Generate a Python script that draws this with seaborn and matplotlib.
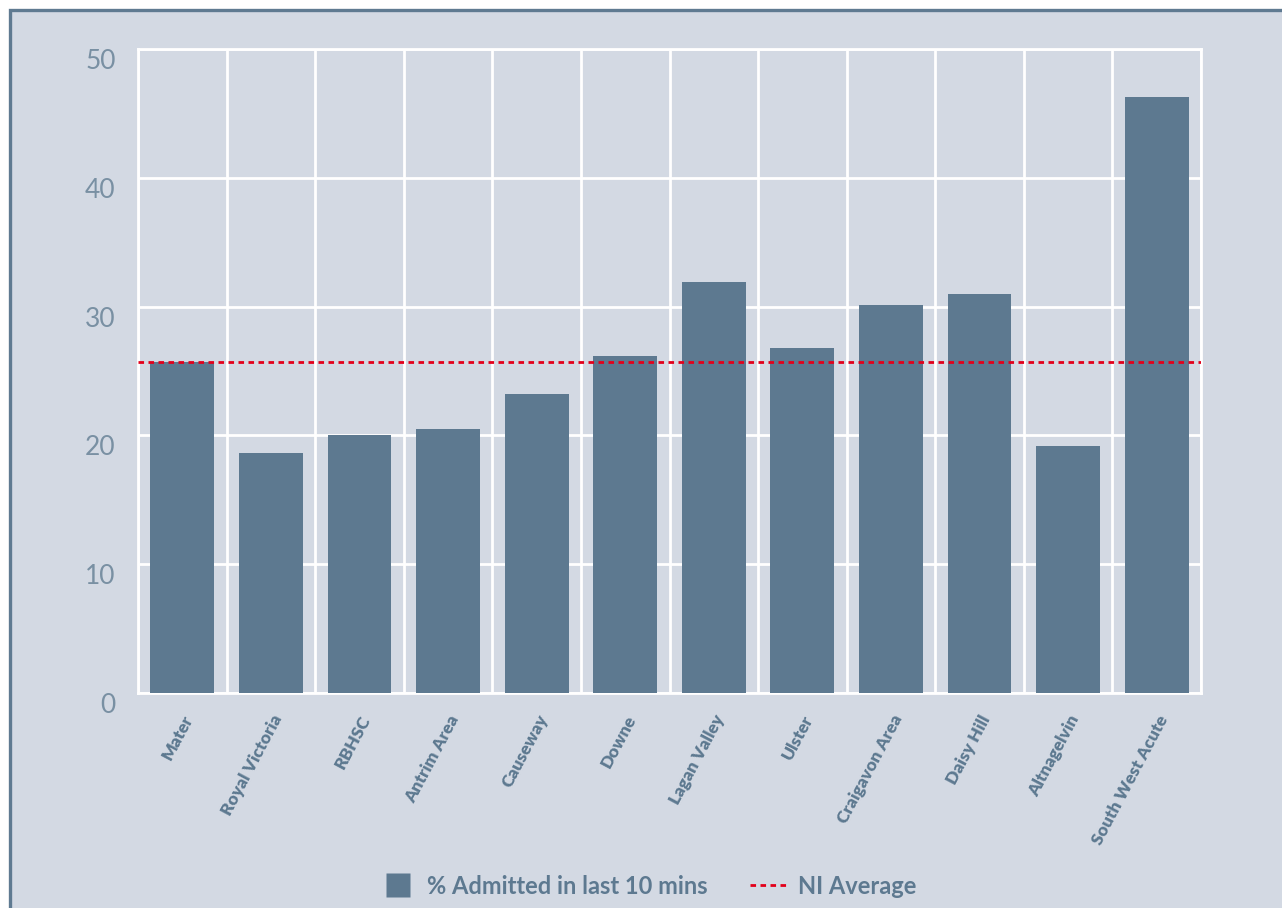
import pandas as pd
import matplotlib
matplotlib.use("Agg")
import matplotlib.pyplot as plt
from matplotlib.patches import Rectangle
from matplotlib.lines import Line2D
import seaborn as sns

# Data
sjukhus = ["Mater", "Royal Victoria", "RBHSC", "Antrim Area", "Causeway", "Downe",
           "Lagan Valley", "Ulster", "Craigavon Area", "Daisy Hill", "Altnagelvin",
           "South West Acute"]
andel = [25.7, 18.6, 20.0, 20.5, 23.2, 26.2, 31.9, 26.8, 30.1, 31.0, 19.2, 46.3]
ni_snitt = 25.7

bg = "#d3d9e3"
bar_farg = "#5d7990"
text_farg = "#5d7990"
rod = "#e3001b"

df = pd.DataFrame({"Sjukhus": sjukhus, "Andel": andel})

sns.set_theme(style="white")
plt.rcParams["font.family"] = ["Lato", "DejaVu Sans"]

fig = plt.figure(figsize=(12.82, 9.08), dpi=100)
fig.patch.set_facecolor("white")
fig.patches.append(Rectangle((10 / 1282, -0.01), 1.05, 1 - 9.5 / 908 + 0.01,
                             transform=fig.transFigure, facecolor=bg,
                             edgecolor="#5f7a91", linewidth=2.4, zorder=-5))

ax = fig.add_axes([138 / 1282, 215 / 908, 1063 / 1282, 644 / 908])
ax.set_facecolor(bg)

sns.barplot(data=df, x="Sjukhus", y="Andel", color=bar_farg, saturation=1,
            width=0.72, linewidth=0, ax=ax, zorder=3)
ax.axhline(ni_snitt, color=rod, linestyle=(0, (2, 1.6)), linewidth=2, zorder=4)

ax.set_ylim(0, 50)
ax.set_xlim(-0.5, len(sjukhus) - 0.5)
ax.set_yticks(range(0, 51, 10))
ax.set_xticks([i + 0.5 for i in range(-1, len(sjukhus))], minor=True)
ax.grid(True, which="major", axis="y", color="white", linewidth=2, zorder=1)
ax.grid(True, which="minor", axis="x", color="white", linewidth=2, zorder=1)
ax.grid(False, which="major", axis="x")
ax.set_axisbelow(True)
for s in ax.spines.values():
    s.set_color("white")
    s.set_linewidth(2)

ax.set_xlabel("")
ax.set_ylabel("")
ax.tick_params(axis="y", length=0, pad=16, labelsize=19, labelcolor="#7990a3")
for t in ax.get_yticklabels():
    t.set_verticalalignment("top")
ax.tick_params(axis="x", which="both", length=0, pad=14)
ax.set_xticks(range(len(sjukhus)))
ax.set_xticklabels(sjukhus, rotation=62, ha="right", rotation_mode="anchor",
                   fontsize=12.5, fontweight="heavy", color=text_farg)

handles = [Line2D([], [], marker="s", markersize=17, linestyle="none",
                  markerfacecolor=bar_farg, markeredgecolor="none"),
           Line2D([], [], color=rod, linestyle=(0, (2, 1.6)), linewidth=2)]
fig.legend(handles, ["% Admitted in last 10 mins", "NI Average"], loc="center",
           bbox_to_anchor=(648 / 1282, 1 - 886 / 908), ncol=2, frameon=False,
           labelcolor=text_farg, prop={"weight": "bold", "size": 17},
           handlelength=1.5, columnspacing=1.8, handletextpad=0.5)

fig.savefig("out.png", dpi=100)
